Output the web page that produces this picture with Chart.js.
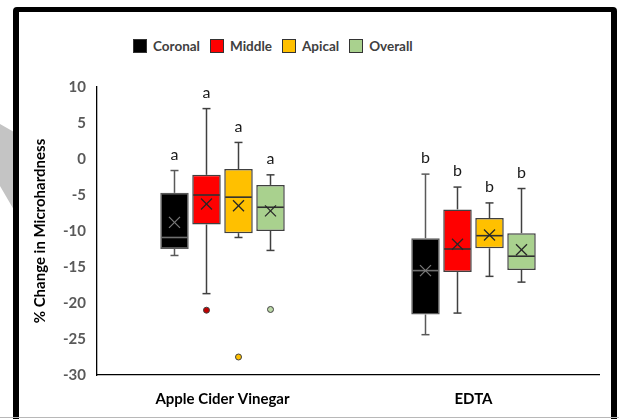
<!DOCTYPE html>
<html><head><meta charset="utf-8">
<script src="https://cdn.jsdelivr.net/npm/chart.js@4.4.0/dist/chart.umd.min.js"></script>
<style>
html,body{margin:0;padding:0;background:#fff;width:619px;height:419px;overflow:hidden;position:relative;font-family:Lato,'Open Sans',sans-serif;}
#band{position:absolute;left:0;top:0;width:619px;height:419px;background:#c4c4c4;clip-path:polygon(0 124px,14px 132px,14px 210px,0 186px);}
#frame{position:absolute;left:13px;top:7px;width:604px;height:440px;box-sizing:border-box;border:6px solid #000;border-top-width:5px;border-radius:4px;background:#fff;}
#bottomline{position:absolute;left:0;top:417px;width:619px;height:1px;background:#b8b8b8;}
#legend{position:absolute;left:133px;top:38px;display:flex;align-items:center;font:bold 13.5px Lato,sans-serif;color:#404040;white-space:nowrap;}
.item{display:flex;align-items:center;margin-right:10px;}
.sw{width:12px;height:12px;border:1px solid #333;margin-right:6px;}
canvas{position:absolute;left:0;top:0;}
</style>
</head>
<body>
<div id="band"></div>
<div id="frame"></div>
<div id="bottomline"></div>
<div id="legend"></div>
<canvas id="c" width="619" height="419"></canvas>
<script>
// ---- data (rows = series Coronal, Middle, Apical, Overall; columns = categories) ----
const categories = ['Apple Cider Vinegar', 'EDTA'];
const seriesNames = ['Coronal', 'Middle', 'Apical', 'Overall'];
const seriesColors = ['#000000', '#ff0000', '#ffc000', '#a9d18e'];
const outlierColors = ['#000000', '#c00000', '#ffc000', '#bcd9a8'];
const whiskerLow  = [[-13.4, -24.4], [-18.7, -21.4], [-10.9, -16.3], [-12.7, -17.1]];
const quartile1   = [[-12.5, -21.6], [-9.1, -15.7], [-10.3, -12.4], [-10.0, -15.4]];
const medians     = [[-10.9, -15.5], [-5.0, -12.5], [-5.3, -10.65], [-6.7, -13.5]];
const quartile3   = [[-4.7, -11.0], [-2.2, -7.0], [-1.4, -8.2], [-3.6, -10.3]];
const whiskerHigh = [[-1.6, -2.1], [7.0, -3.9], [2.3, -6.1], [-2.2, -4.1]];
const means       = [[-8.8, -15.5], [-6.25, -11.85], [-6.5, -10.55], [-7.2, -12.6]];
const outliers    = [[[], []], [[-21.0], []], [[-27.5], []], [[-20.9], []]];
const letters     = ['a', 'b'];
const yTicks = {min: -30, max: 10, step: 5};

// legend (HTML)
const lg = document.getElementById('legend');
seriesNames.forEach((n, i) => {
  const it = document.createElement('div'); it.className = 'item';
  const sw = document.createElement('div'); sw.className = 'sw'; sw.style.background = seriesColors[i];
  const tx = document.createElement('span'); tx.textContent = n;
  it.appendChild(sw); it.appendChild(tx); lg.appendChild(it);
});

const datasets = seriesNames.map((n, si) => ({
  label: n,
  data: categories.map((c, ci) => [quartile1[si][ci], quartile3[si][ci]]),
  backgroundColor: seriesColors[si],
  borderColor: si === 0 ? '#595959' : '#404040',
  borderWidth: 1.5,
  borderSkipped: false,
  barPercentage: 0.89,
  categoryPercentage: 0.51
}));

const boxExtras = {
  id: 'boxExtras',
  afterDatasetsDraw(chart) {
    const ctx = chart.ctx, ys = chart.scales.y;
    const P = v => ys.getPixelForValue(v);
    const line = (x1, y1, x2, y2) => { ctx.beginPath(); ctx.moveTo(x1, y1); ctx.lineTo(x2, y2); ctx.stroke(); };
    ctx.save();
    seriesNames.forEach((n, si) => {
      const meta = chart.getDatasetMeta(si);
      meta.data.forEach((bar, ci) => {
        const x = bar.x, w = bar.width;
        const wc = si === 0 ? '#595959' : '#404040';
        ctx.strokeStyle = wc; ctx.lineWidth = 1.5;
        const hi = P(whiskerHigh[si][ci]), lo = P(whiskerLow[si][ci]);
        line(x, hi, x, P(quartile3[si][ci]));
        line(x, P(quartile1[si][ci]), x, lo);
        line(x - 4, hi, x + 4, hi);
        line(x - 4, lo, x + 4, lo);
        // median
        ctx.strokeStyle = si === 0 ? '#6f6f6f' : '#303030'; ctx.lineWidth = 1.6;
        const m = P(medians[si][ci]);
        line(x - w / 2 + 1, m, x + w / 2 - 1, m);
        // mean X
        const my = P(means[si][ci]); const s = 5.5;
        ctx.strokeStyle = si === 0 ? '#7a7a7a' : '#262626'; ctx.lineWidth = 1.3;
        line(x - s, my - s, x + s, my + s);
        line(x - s, my + s, x + s, my - s);
        // outliers
        outliers[si][ci].forEach(v => {
          ctx.beginPath(); ctx.arc(x, P(v), 3, 0, Math.PI * 2);
          ctx.fillStyle = outlierColors[si]; ctx.fill();
          ctx.strokeStyle = '#404040'; ctx.lineWidth = 1; ctx.stroke();
        });
        // significance letter
        ctx.fillStyle = '#1a1a1a'; ctx.font = '16px Lato, sans-serif';
        ctx.textAlign = 'center'; ctx.textBaseline = 'middle';
        ctx.fillText(letters[ci], x, hi - 16);
      });
    });
    ctx.restore();
  }
};

new Chart(document.getElementById('c'), {
  type: 'bar',
  data: {labels: categories, datasets},
  options: {
    responsive: false, animation: false,
    layout: {padding: {left: 0, top: 87, right: 20, bottom: 0}},
    plugins: {legend: {display: false}, tooltip: {enabled: false}},
    scales: {
      x: {
        grid: {display: false, drawTicks: false},
        border: {display: true, color: '#000', width: 1.3},
        ticks: {color: '#000', font: {family: 'Lato', weight: 'bold', size: 15}, padding: 15},
        afterFit(s) { s.height = 44; }
      },
      y: {
        min: yTicks.min, max: yTicks.max,
        ticks: {stepSize: yTicks.step, color: '#595959', font: {family: 'Lato', weight: 'bold', size: 15}, padding: 11},
        grid: {display: false, drawTicks: false},
        border: {display: true, color: '#000', width: 1.3},
        title: {display: true, text: '% Change in Microhardness', color: '#000',
                font: {family: 'Lato', weight: 'bold', size: 15}, padding: {top: 31, bottom: 0}},
        afterFit(s) { s.width = 97; }
      }
    }
  },
  plugins: [boxExtras]
});
</script>
</body></html>
